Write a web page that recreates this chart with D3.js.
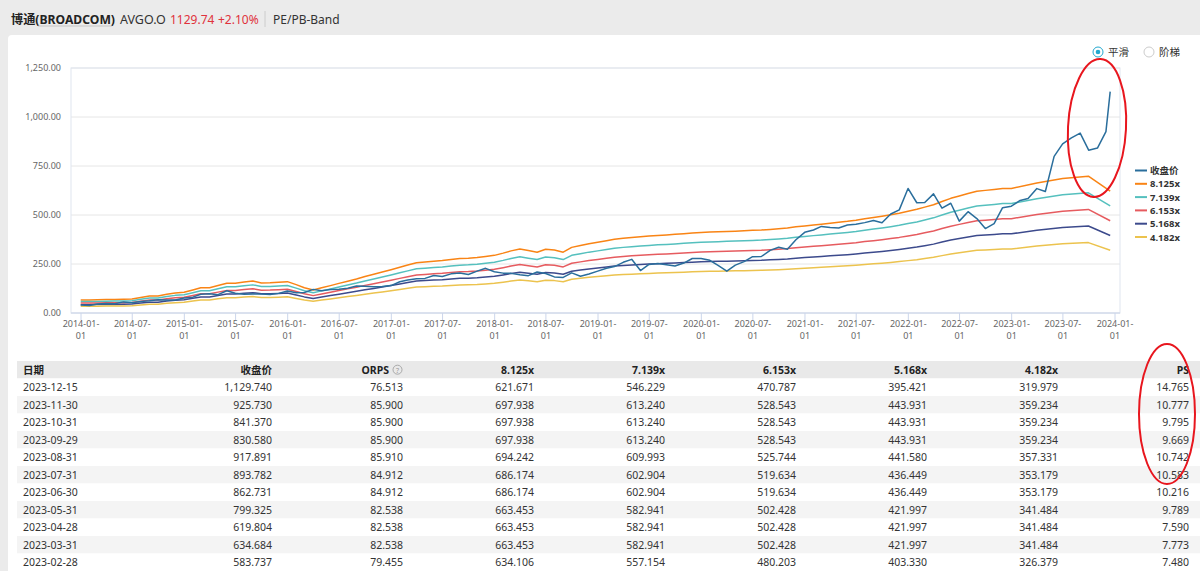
<!DOCTYPE html>
<html>
<head>
<meta charset="utf-8">
<script src="https://cdn.jsdelivr.net/npm/d3@7/dist/d3.min.js"></script>
<style>
  body { margin: 0; background: #ebebeb; font-family: "Noto Sans", "Noto Sans CJK SC", sans-serif; }
  #main { width: 1200px; height: 571px; overflow: hidden; }
</style>
</head>
<body>
<div id="main"></div>
<script>
// 月末收盘价 (2013-12 .. 2023-11, 最后一个点 2023-12-15)
const closePrice = [
  40.3, 38.1, 46.4, 48.9, 47.0, 56.7, 52.7, 58.1, 62.0, 67.3, 65.8, 66.2,
  76.4, 80.8, 96.0, 98.4, 93.5, 113.5, 100.9, 95.5, 96.7, 96.3, 94.8, 100.1,
  111.8, 102.9, 104.4, 120.5, 113.7, 119.3, 121.2, 126.4, 137.8, 136.3, 134.5, 134.7,
  139.7, 159.6, 168.7, 175.2, 176.6, 191.6, 186.5, 199.7, 203.6, 196.5, 213.8, 227.9,
  210.7, 203.4, 202.2, 195.6, 190.4, 209.2, 201.4, 184.1, 181.6, 204.8, 187.7, 199.4,
  213.6, 228.0, 236.7, 258.6, 273.8, 216.4, 247.6, 252.2, 245.9, 240.2, 254.7, 278.2,
  278.1, 268.6, 242.6, 213.4, 244.4, 262.2, 287.2, 288.3, 319.3, 335.2, 325.1, 373.5,
  411.6, 423.5, 441.7, 435.9, 433.4, 448.6, 453.0, 461.1, 472.3, 460.7, 505.1, 526.0,
  635.5, 562.5, 563.7, 607.7, 535.0, 559.8, 468.8, 516.8, 481.6, 430.7, 456.0, 537.2,
  545.1, 574.5, 583.737, 634.684, 619.804, 799.325, 862.731, 893.782, 917.891, 830.58, 841.37, 925.73,
  1129.74
];

// 每股营收基准 (1x 带), 2013-12 .. 2022-12 按月
const bandBase = [
  8.2, 8.2, 8.3, 8.4, 8.5, 8.6, 8.8, 9.8, 10.7, 10.7, 11.8, 12.6,
  13.0, 14.5, 15.9, 15.9, 17.3, 18.7, 18.7, 19.4, 20.1, 18.9, 19.0, 19.3,
  19.7, 17.8, 15.9, 14.4, 15.8, 17.2, 18.6, 20.0, 21.4, 22.9, 24.3, 25.7,
  27.2, 28.7, 30.1, 31.6, 32.0, 32.5, 32.9, 33.6, 34.2, 34.4, 34.8, 35.5,
  36.2, 37.6, 39.0, 40.2, 39.2, 38.2, 40.0, 39.5, 38.2, 41.2, 42.4, 43.5,
  44.4, 45.4, 46.3, 46.9, 47.4, 47.9, 48.3, 48.7, 49.0, 49.4, 49.8, 50.2,
  50.5, 50.8, 51.0, 51.2, 51.4, 51.6, 51.9, 52.1, 52.5, 52.9, 53.4, 54.1,
  54.7, 55.3, 55.8, 56.4, 57.0, 57.6, 58.3, 59.2, 60.0, 60.8, 61.7, 62.7,
  63.9, 65.1, 66.5, 68.0, 70.0, 72.0, 73.5, 75.0, 76.5, 77.0, 77.6, 78.2,
  78.2
];
// 2023 年按季度的基准点
const bandDates2023 = ['2023-03-31', '2023-06-30', '2023-09-29', '2023-12-15'];
const bandBase2023 = [81.656, 84.452, 85.9, 76.513];

const multiples = [8.125, 7.139, 6.153, 5.168, 4.182];
const seriesNames = ['收盘价', '8.125x', '7.139x', '6.153x', '5.168x', '4.182x'];
const seriesColors = ['#2a6e9c', '#f98415', '#55c0be', '#e65b5f', '#3c4a8c', '#ecc34e'];
const yTicks = [0, 250, 500, 750, 1000, 1250];

// 表格
const tableDates = ['2023-12-15', '2023-11-30', '2023-10-31', '2023-09-29', '2023-08-31', '2023-07-31',
  '2023-06-30', '2023-05-31', '2023-04-28', '2023-03-31', '2023-02-28'];
const tableClose = [1129.740, 925.730, 841.370, 830.580, 917.891, 893.782, 862.731, 799.325, 619.804, 634.684, 583.737];
const tableOrps = [76.513, 85.900, 85.900, 85.900, 85.910, 84.912, 84.912, 82.538, 82.538, 82.538, 79.455];
const table8125 = [621.671, 697.938, 697.938, 697.938, 694.242, 686.174, 686.174, 663.453, 663.453, 663.453, 634.106];
const table7139 = [546.229, 613.240, 613.240, 613.240, 609.993, 602.904, 602.904, 582.941, 582.941, 582.941, 557.154];
const table6153 = [470.787, 528.543, 528.543, 528.543, 525.744, 519.634, 519.634, 502.428, 502.428, 502.428, 480.203];
const table5168 = [395.421, 443.931, 443.931, 443.931, 441.580, 436.449, 436.449, 421.997, 421.997, 421.997, 403.330];
const table4182 = [319.979, 359.234, 359.234, 359.234, 357.331, 353.179, 353.179, 341.484, 341.484, 341.484, 326.379];
const tablePs = [14.765, 10.777, 9.795, 9.669, 10.742, 10.583, 10.216, 9.789, 7.590, 7.773, 7.480];
const tableHeaders = ['日期', '收盘价', 'ORPS', '8.125x', '7.139x', '6.153x', '5.168x', '4.182x', 'PS'];

const W = 1200, H = 571;
const svg = d3.select('#main').append('svg').attr('width', W).attr('height', H)
  .style('font-family', '"Noto Sans", "Noto Sans CJK SC", sans-serif');

// 背景
svg.append('rect').attr('width', W).attr('height', H).attr('fill', '#ebebeb');
svg.append('rect').attr('x', 8).attr('y', 35).attr('width', W).attr('height', H).attr('rx', 4).attr('fill', '#fff');

// 标题栏
const head = svg.append('g').attr('transform', 'translate(0,24)');
head.append('text').attr('x', 11).attr('font-size', 12).attr('font-weight', 'bold').attr('fill', '#222')
  .attr('textLength', 104).attr('lengthAdjust', 'spacingAndGlyphs')
  .text('博通(BROADCOM)');
head.append('line').attr('x1', 38).attr('x2', 112).attr('y1', 2).attr('y2', 2).attr('stroke', '#bbb').attr('stroke-width', 0.8);
head.append('text').attr('x', 120).attr('font-size', 12.5).attr('fill', '#333').text('AVGO.O');
head.append('text').attr('x', 170).attr('font-size', 12).attr('fill', '#e0323c').text('1129.74');
head.append('text').attr('x', 218).attr('font-size', 12).attr('fill', '#e0323c').text('+2.10%');
head.append('line').attr('x1', 265).attr('x2', 265).attr('y1', -13).attr('y2', 3).attr('stroke', '#ccc');
head.append('text').attr('x', 273).attr('font-size', 12).attr('fill', '#333').text('PE/PB-Band');

// 单选
const radio = svg.append('g');
radio.append('circle').attr('cx', 1098).attr('cy', 52).attr('r', 5).attr('fill', '#fff').attr('stroke', '#23a8cf');
radio.append('circle').attr('cx', 1098).attr('cy', 52).attr('r', 2.3).attr('fill', '#23a8cf');
radio.append('text').attr('x', 1108).attr('y', 56).attr('font-size', 10.5).attr('fill', '#333').text('平滑');
radio.append('circle').attr('cx', 1149).attr('cy', 52).attr('r', 5).attr('fill', '#fff').attr('stroke', '#ccc');
radio.append('text').attr('x', 1159).attr('y', 56).attr('font-size', 10.5).attr('fill', '#333').text('阶梯');

// 日期
const monthEnd = i => d3.timeDay.offset(d3.timeMonth.offset(new Date(2014, 0, 1), i), -1);
const closeDates = closePrice.map((d, i) => i === closePrice.length - 1 ? new Date(2023, 11, 15) : monthEnd(i));
const parse = d3.timeParse('%Y-%m-%d');
const bandDates = bandBase.map((d, i) => monthEnd(i)).concat(bandDates2023.map(parse));
const bandAll = bandBase.concat(bandBase2023);

const plot = { left: 71, right: 1120, top: 68, bottom: 313 };
const x = d3.scaleTime().domain([new Date(2014, 0, 1), new Date(2024, 0, 1)]).range([81, 1115]);
const y = d3.scaleLinear().domain([0, 1250]).range([plot.bottom, plot.top]);

// 网格
svg.append('g').selectAll('line').data(yTicks).enter().append('line')
  .attr('x1', plot.left).attr('x2', plot.right)
  .attr('y1', d => y(d)).attr('y2', d => y(d))
  .attr('stroke', '#e6e6e6');
svg.append('rect').attr('x', plot.left).attr('y', plot.top)
  .attr('width', plot.right - plot.left).attr('height', plot.bottom - plot.top)
  .attr('fill', 'none').attr('stroke', '#dfe5ef');

// y 轴标签
svg.append('g').selectAll('text').data(yTicks).enter().append('text')
  .attr('x', 61).attr('y', d => y(d) + 3).attr('text-anchor', 'end')
  .attr('font-size', 9).attr('fill', '#666')
  .text(d => d3.format(',.2f')(d));

// x 轴
const xTicks = d3.timeMonth.every(6).range(new Date(2014, 0, 1), new Date(2024, 0, 2));
svg.append('line').attr('x1', plot.left).attr('x2', plot.right).attr('y1', plot.bottom).attr('y2', plot.bottom)
  .attr('stroke', '#ccd6eb');
const xt = svg.append('g').selectAll('g').data(xTicks).enter().append('g')
  .attr('transform', d => 'translate(' + x(d) + ',' + plot.bottom + ')');
xt.append('line').attr('y1', 0).attr('y2', 7).attr('stroke', '#ccd6eb');
xt.append('text').attr('y', 14).attr('text-anchor', 'middle').attr('font-size', 9).attr('fill', '#666')
  .text(d3.timeFormat('%Y-%m-'));
xt.append('text').attr('y', 26).attr('text-anchor', 'middle').attr('font-size', 9).attr('fill', '#666')
  .text(d3.timeFormat('%d'));

// 线
const line = d3.line().x(d => x(d[0])).y(d => y(d[1]));
const series = [closePrice.map((v, i) => [closeDates[i], v])]
  .concat(multiples.map(m => bandAll.map((b, i) => [bandDates[i], b * m])));
const order = [1, 2, 3, 4, 5, 0];
svg.append('g').selectAll('path').data(order).enter().append('path')
  .attr('d', k => line(series[k]))
  .attr('fill', 'none')
  .attr('stroke', k => seriesColors[k])
  .attr('stroke-width', 1.5)
  .attr('stroke-linejoin', 'round');

// 图例
const leg = svg.append('g').selectAll('g').data(seriesNames).enter().append('g')
  .attr('transform', (d, i) => 'translate(1135,' + (170.5 + i * 13.3) + ')');
leg.append('line').attr('x1', 0).attr('x2', 12).attr('stroke', (d, i) => seriesColors[i]).attr('stroke-width', 2);
leg.append('text').attr('x', 15).attr('y', 3.5).attr('font-size', 9.5).attr('font-weight', 'bold').attr('fill', '#333')
  .text(d => d);

// 表格
const colX = [23, 272, 403, 534, 665, 796, 927, 1058, 1189];
const rowH = 17.5, tableTop = 361;
const fmt = d3.format(',.3f');
const tbl = svg.append('g');
tbl.append('rect').attr('x', 17).attr('y', tableTop).attr('width', W - 17).attr('height', rowH).attr('fill', '#e9e9e9');
tbl.selectAll('rect.row').data(tableDates).enter().append('rect').attr('class', 'row')
  .attr('x', 17).attr('y', (d, i) => tableTop + rowH * (i + 1))
  .attr('width', W - 17).attr('height', rowH)
  .attr('fill', (d, i) => i % 2 ? '#f4f4f4' : '#fff');
tbl.selectAll('text.h').data(tableHeaders).enter().append('text').attr('class', 'h')
  .attr('x', (d, i) => i === 2 ? colX[i] - 14 : colX[i])
  .attr('y', tableTop + 12.5)
  .attr('text-anchor', (d, i) => i === 0 ? 'start' : 'end')
  .attr('font-size', 10.5).attr('font-weight', 'bold').attr('fill', '#222')
  .text(d => d);
tbl.append('circle').attr('cx', colX[2] - 5.5).attr('cy', tableTop + 8.7).attr('r', 4.5)
  .attr('fill', 'none').attr('stroke', '#999').attr('stroke-width', 0.8);
tbl.append('text').attr('x', colX[2] - 5.5).attr('y', tableTop + 11.5).attr('text-anchor', 'middle')
  .attr('font-size', 7).attr('fill', '#999').text('?');

const cols = [tableClose, tableOrps, table8125, table7139, table6153, table5168, table4182, tablePs];
tableDates.forEach((dt, r) => {
  const ty = tableTop + rowH * (r + 1) + 12.5;
  tbl.append('text').attr('x', colX[0]).attr('y', ty).attr('font-size', 10.5).attr('fill', '#333').text(dt);
  cols.forEach((c, j) => {
    tbl.append('text').attr('x', colX[j + 1]).attr('y', ty).attr('text-anchor', 'end')
      .attr('font-size', 10.5).attr('fill', '#333').text(fmt(c[r]));
  });
});

// 红色标注圈
svg.append('ellipse').attr('cx', 1097).attr('cy', 128).attr('rx', 29).attr('ry', 69)
  .attr('transform', 'rotate(3,1097,128)')
  .attr('fill', 'none').attr('stroke', '#e8161e').attr('stroke-width', 2);
svg.append('ellipse').attr('cx', 1167).attr('cy', 414).attr('rx', 28).attr('ry', 70)
  .attr('fill', 'none').attr('stroke', '#e8161e').attr('stroke-width', 2);
</script>
</body>
</html>
